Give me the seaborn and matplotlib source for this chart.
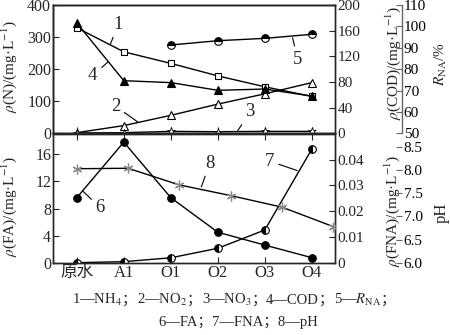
import numpy as np
import pandas as pd
import matplotlib
matplotlib.use("Agg")
import matplotlib.pyplot as plt
from matplotlib.ticker import FixedLocator, FuncFormatter
import seaborn as sns

# ---- data ----
stages = ["原水", "A1", "O1", "O2", "O3", "O4"]
nh4 = [329, 254, 218, 179, 145, 115]          # mg/L
no2 = [2, 24, 56, 91, 123, 158]               # mg/L
no3 = [1, 2, 6, 5, 6, 6]                      # mg/L
cod = [172, 82, 79, 67, 69, 58]               # mg/L
r_na = [np.nan, np.nan, 91.3, 93.3, 94.4, 96.3]  # %
fa = [9.6, 17.8, 9.6, 4.5, 2.6, 0.74]         # mg/L
fna = [0.0, 0.0004, 0.0019, 0.0056, 0.0127, 0.0441]  # mg/L
ph = [8.03, 8.04, 7.68, 7.45, 7.20, 6.78]

sns.set_style("ticks")
plt.rcParams["font.family"] = ["Liberation Serif", "DejaVu Serif", "Noto Sans CJK SC"]
plt.rcParams["mathtext.fontset"] = "stix"
plt.rcParams["xtick.direction"] = "in"
plt.rcParams["ytick.direction"] = "in"
plt.rcParams["axes.linewidth"] = 1.0

FS = 11.5
RFS = 11
LFS = 11
df = pd.DataFrame({"pos": np.arange(len(stages)), "nh4": nh4, "no2": no2, "no3": no3,
                   "cod": cod, "r_na": r_na, "fa": fa, "fna": fna, "ph": ph})

fig = plt.figure(figsize=(4.5, 3.35), dpi=100)
L, W = 53.3 / 450, 282 / 450
ax_top = fig.add_axes([L, 1 - 133.3 / 335, W, 128.3 / 335])
ax_bot = fig.add_axes([L, 1 - 262.7 / 335, W, 128.7 / 335])
ax_cod = ax_top.twinx()
ax_rna = ax_top.twinx()
ax_fna = ax_bot.twinx()
ax_ph = fig.add_axes([L, 1 - 262.7 / 335, W, 128.7 / 335], frameon=False)

line_kw = dict(color="black", lw=1.0, legend=False)

# top panel
sns.lineplot(data=df, x="pos", y="nh4", ax=ax_top, marker="s", ms=5, mfc="white", mec="black", mew=0.8, **line_kw)
sns.lineplot(data=df, x="pos", y="no2", ax=ax_top, marker="^", ms=6, mfc="white", mec="black", mew=0.8, **line_kw)
sns.lineplot(data=df, x="pos", y="no3", ax=ax_top, marker="*", ms=6, mfc="white", mec="black", mew=0.6, **line_kw)
sns.lineplot(data=df, x="pos", y="cod", ax=ax_cod, marker="^", ms=6, mfc="black", mec="black", mew=0.8, **line_kw)
sns.lineplot(data=df.dropna(subset=["r_na"]), x="pos", y="r_na", ax=ax_rna, marker="o", ms=5.5,
             fillstyle="top", mfc="black", mfcalt="white", mec="black", mew=0.8, **line_kw)

# bottom panel
sns.lineplot(data=df, x="pos", y="fa", ax=ax_bot, marker="o", ms=5.5, mfc="black", mec="black", **line_kw)
sns.lineplot(data=df, x="pos", y="fna", ax=ax_fna, marker="o", ms=5.5, fillstyle="left",
             mfc="black", mfcalt="white", mec="black", mew=0.8, **line_kw)
sns.lineplot(data=df, x="pos", y="ph", ax=ax_ph, marker=(6, 2, 0), ms=7, mec="#888888", mew=0.9,
             color="black", lw=1.0, legend=False)

for a in (ax_top, ax_bot, ax_cod, ax_rna, ax_fna):
    a.set_xlim(-0.5, 5.5)
ax_ph.set_xlim(-0.456, 5.04)

# y scales
ax_top.set_ylim(0, 400)
ax_top.yaxis.set_major_locator(FixedLocator([0, 100, 200, 300, 400]))
ax_cod.set_ylim(0, 200)
ax_cod.yaxis.set_major_locator(FixedLocator([0, 40, 80, 120, 160, 200]))
ax_rna.set_ylim(50, 110)
ax_rna.yaxis.set_major_locator(FixedLocator([50, 60, 70, 80, 90, 100, 110]))
ax_bot.set_ylim(0, 19)
ax_bot.yaxis.set_major_locator(FixedLocator([0, 4, 8, 12, 16]))
ax_fna.set_ylim(0, 0.05)
ax_fna.yaxis.set_major_locator(FixedLocator([0, 0.01, 0.02, 0.03, 0.04]))
ax_fna.yaxis.set_major_formatter(FuncFormatter(lambda v, p: "0" if v == 0 else f"{v:.2f}"))
ax_ph.set_ylim(6.0, 8.78)
ax_ph.yaxis.set_major_locator(FixedLocator([6.0, 6.5, 7.0, 7.5, 8.0, 8.5]))
ax_ph.yaxis.set_major_formatter(FuncFormatter(lambda v, p: f"{v:.1f}"))

# offset right spines
spine_gray = "#666666"
for a in (ax_rna, ax_ph):
    a.spines["right"].set_position(("axes", 1.235))
    a.spines["right"].set_visible(True)
    a.spines["right"].set_color(spine_gray)
    a.spines["right"].set_linewidth(1.0)
    a.yaxis.set_ticks_position("right")
    a.yaxis.set_label_position("right")
    a.tick_params(axis="y", colors=spine_gray, labelcolor="black")
ax_ph.xaxis.set_visible(False)
for s in ("left", "top", "bottom"):
    ax_ph.spines[s].set_visible(False)

for a in (ax_top, ax_bot):
    a.tick_params(axis="both", labelsize=FS, length=4, width=0.8, pad=1.5)
for a in (ax_cod, ax_rna, ax_fna, ax_ph):
    a.tick_params(axis="both", labelsize=RFS, length=4, width=0.8, pad=1.5)
for a in (ax_top, ax_bot, ax_cod, ax_rna, ax_fna, ax_ph):
    a.set_xlabel("")
    a.set_ylabel("")

ax_top.set_xticks(df["pos"])
ax_top.set_xticklabels([])
ax_bot.set_xticks(df["pos"])
ax_bot.set_xticklabels(stages, fontsize=FS + 0.5)
ax_bot.tick_params(axis="x", top=True, pad=2)
for a in (ax_cod, ax_rna, ax_fna):
    a.tick_params(axis="x", bottom=False, top=False, labelbottom=False)

# axis titles
ax_top.set_ylabel(r"$\rho$(N)/(mg·L$^{-1}$)", fontsize=LFS)
ax_top.yaxis.set_label_coords(-0.12, 0.52)
ax_bot.set_ylabel(r"$\rho$(FA)/(mg·L$^{-1}$)", fontsize=LFS)
ax_bot.yaxis.set_label_coords(-0.12, 0.44)
ax_cod.set_ylabel(r"$\rho$(COD)/(mg·L$^{-1}$)", fontsize=LFS, rotation=90)
ax_cod.yaxis.set_label_coords(1.172, 0.55)
ax_rna.set_ylabel(r"$R_{\rm NA}$/%", fontsize=LFS, rotation=90)
ax_rna.yaxis.set_label_coords(1.345, 0.54)
ax_fna.set_ylabel(r"$\rho$(FNA)/(mg·L$^{-1}$)", fontsize=LFS, rotation=90)
ax_fna.yaxis.set_label_coords(1.168, 0.40)
ax_ph.set_ylabel("pH", fontsize=LFS + 1, rotation=90)
ax_ph.yaxis.set_label_coords(1.35, 0.39)

# numbered callouts
arrow = dict(arrowstyle="-", lw=0.8, color="black", shrinkA=1, shrinkB=0)
nfs = 13.5
def call(ax, txt, xy, xytext):
    ax.annotate(txt, xy=xy, xytext=xytext, fontsize=nfs, ha="center", va="center",
                arrowprops=arrow, zorder=5)

call(ax_top, "1", (0.71, 276), (0.88, 340))
call(ax_top, "4", (0.674, 224), (0.34, 180))
call(ax_top, "2", (1.31, 34), (0.82, 85))
call(ax_top, "3", (3.41, 5), (3.69, 67))
call(ax_top, "5", (4.59, 298), (4.70, 231))
call(ax_bot, "6", (0.14, 10.5), (0.50, 8.1))
call(ax_bot, "7", (4.69, 13.6), (4.10, 15.0))
call(ax_bot, "8", (2.65, 11.2), (2.83, 14.7))

# key, built from pieces so the full-width separators use the CJK font
renderer = fig.canvas.get_renderer()
cap_fs = 10.5

def key_line(pieces, xc_px, y_px):
    texts, widths = [], []
    for p in pieces:
        t = fig.text(0, 1 - y_px / 335, p, fontsize=cap_fs, ha="left", va="baseline")
        texts.append(t)
        widths.append(t.get_window_extent(renderer).width)
    x = xc_px - sum(widths) / 2
    for t, w in zip(texts, widths):
        t.set_x(x / 450)
        x += w

key_line([r"1—NH$_4$", "；", r"2—NO$_2$", "；", r"3—NO$_3$", "；", "4—COD", "；",
          r"5—$R_{\rm NA}$", "；"], 234, 304)
key_line(["6—FA；7—FNA；8—pH"], 238, 326)

fig.savefig("out.png", dpi=100)
